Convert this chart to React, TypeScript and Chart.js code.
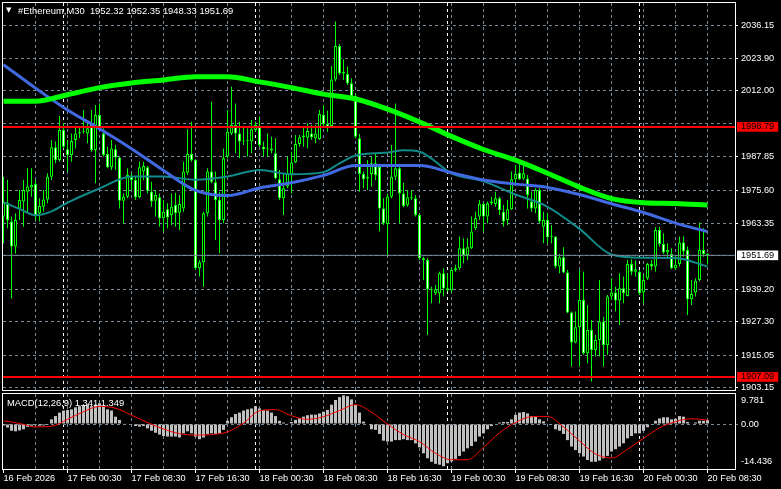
import React, { useEffect, useRef } from 'react';
import { Chart, registerables } from 'chart.js';

Chart.register(...registerables);

// ---------- DATA ----------
const symbol = '#Ethereum';
const period = 'M30';

const opens = [
  1965.9, 1971.0, 1964.05, 1954.9, 1968.9, 1971.4, 1975.05, 1976.6, 1977.85, 1967.1,
  1969.55, 1972.2, 1980.55, 1991.3, 1986.65, 1997.65, 1990.6, 1988.5, 1994.0, 1996.4,
  1996.8, 1996.4, 2000.1, 1990.3, 2003.15, 1996.4, 1988.85, 1983.95, 1990.6, 1987.6,
  1971.75, 1973.2, 1980.55, 1979.3, 1972.95, 1982.4, 1983.95, 1975.05, 1971.75, 1972.95,
  1965.3, 1968.6, 1966.5, 1970.15, 1967.35, 1968.9, 1982.0, 1988.85, 1986.65, 1946.95,
  1949.15, 1967.1, 1982.4, 1978.5, 1972.0, 1964.65, 1987.9, 1996.4, 1999.5, 1996.4,
  1993.4, 1993.75, 1993.4, 1997.65, 1998.9, 1991.55, 1990.6, 1990.9, 1989.1, 1979.6,
  1972.6, 1976.9, 1981.5, 1985.7, 1992.5, 1994.95, 1994.85, 1996.4, 1994.6, 1994.35,
  2003.15, 1999.85, 1999.1, 2016.2, 2028.45, 2018.4, 2018.2, 2014.8, 2010.1, 1994.6,
  1981.5, 1979.9, 1981.5, 1985.45, 1984.2, 1968.9, 1963.2, 1973.2, 1980.55, 1983.6,
  1974.4, 1970.15, 1972.95, 1972.6, 1966.5, 1950.6, 1950.0, 1939.25, 1937.8, 1937.8,
  1945.1, 1939.6, 1938.75, 1946.35, 1946.95, 1954.3, 1951.8, 1954.3, 1961.6, 1965.9,
  1970.5, 1965.9, 1970.8, 1970.5, 1972.6, 1967.7, 1964.65, 1968.6, 1979.55, 1982.0,
  1979.9, 1979.9, 1971.4, 1968.9, 1975.65, 1962.2, 1964.65, 1958.3, 1958.55, 1947.55,
  1951.0, 1945.35, 1930.7, 1919.7, 1925.3, 1935.35, 1915.8, 1924.35, 1917.0, 1920.65,
  1927.4, 1918.85, 1936.55, 1938.05, 1935.1, 1939.6, 1936.8, 1948.55, 1945.7, 1945.7,
  1938.05, 1943.3, 1948.55, 1947.55, 1961.0, 1955.85, 1952.7, 1952.2, 1946.95, 1948.55,
  1956.35, 1953.65, 1935.6, 1938.05, 1942.65, 1953.65, 1952.32,
];
const highs = [
  1980.5, 1979.3, 1965.9, 1967.1, 1975.65, 1979.3, 1983.6, 1983.6, 1979.3, 1972.6,
  1975.65, 1981.8, 1994.0, 1993.4, 2002.8, 2000.1, 1994.0, 1996.4, 1998.9, 1998.9,
  2005.0, 2000.7, 2005.0, 2006.8, 2007.4, 1998.3, 1991.5, 1994.0, 1992.2, 1987.9,
  1974.4, 1983.6, 1981.8, 1980.55, 1986.05, 1986.05, 1984.45, 1978.7, 1975.65, 1974.4,
  1972.0, 1970.8, 1974.4, 1974.65, 1973.8, 1986.05, 1997.9, 2000.7, 1986.9, 1950.0,
  1967.7, 1983.6, 2008.05, 1982.4, 1975.05, 1990.9, 2005.0, 2013.5, 2007.4, 2000.7,
  1998.9, 1998.25, 2001.3, 2000.7, 2002.55, 1993.4, 1996.4, 1995.2, 1994.6, 1983.0,
  1981.8, 1987.9, 1989.7, 1995.8, 1995.8, 1998.9, 2000.1, 1999.5, 1999.5, 2005.0,
  2006.8, 2004.7, 2021.1, 2037.4, 2029.2, 2023.55, 2020.9, 2016.6, 2010.85, 1996.2,
  1982.4, 1986.65, 1987.9, 1989.1, 1984.8, 1972.6, 1974.4, 1992.15, 2007.4, 1984.2,
  1978.35, 1975.65, 1975.65, 1973.8, 1966.8, 1951.2, 1950.6, 1940.2, 1940.8, 1945.7,
  1946.95, 1945.1, 1946.95, 1948.2, 1958.55, 1957.95, 1957.95, 1965.9, 1967.7, 1972.0,
  1971.0, 1971.4, 1973.2, 1975.05, 1973.2, 1970.15, 1972.0, 1982.4, 1984.8, 1985.45,
  1984.8, 1981.15, 1975.05, 1976.25, 1976.25, 1967.7, 1967.1, 1962.85, 1958.6, 1952.2,
  1954.65, 1946.35, 1931.05, 1931.05, 1946.35, 1945.7, 1933.5, 1928.0, 1922.5, 1942.65,
  1929.2, 1937.15, 1943.3, 1940.2, 1945.1, 1943.9, 1950.0, 1950.25, 1949.75, 1946.35,
  1944.5, 1949.0, 1950.0, 1962.0, 1962.2, 1959.8, 1956.1, 1954.3, 1951.8, 1958.55,
  1958.55, 1954.9, 1942.65, 1943.3, 1963.7, 1961.6, 1952.35,
];
const lows = [
  1956.1, 1961.6, 1935.9, 1952.4, 1964.65, 1962.2, 1967.1, 1973.2, 1964.65, 1964.05,
  1967.7, 1970.8, 1979.3, 1985.45, 1986.05, 1990.9, 1982.4, 1986.05, 1990.9, 1994.6,
  1996.4, 1992.8, 1989.7, 1978.1, 1997.65, 1987.9, 1983.6, 1983.0, 1983.0, 1968.9,
  1963.45, 1972.6, 1975.65, 1972.0, 1972.6, 1979.3, 1974.4, 1969.55, 1965.9, 1962.2,
  1960.4, 1961.6, 1962.8, 1962.2, 1961.0, 1967.7, 1981.15, 1986.05, 1946.3, 1943.9,
  1940.2, 1965.9, 1978.1, 1957.3, 1952.45, 1963.45, 1987.25, 1995.8, 1989.1, 1987.25,
  1992.15, 1987.9, 1989.1, 1997.05, 1991.55, 1987.9, 1987.9, 1989.1, 1979.6, 1972.0,
  1966.5, 1976.3, 1974.4, 1985.45, 1991.55, 1991.55, 1990.9, 1994.0, 1992.75, 1994.0,
  1998.9, 1997.05, 1998.6, 2015.4, 2017.8, 2016.0, 2014.15, 2009.3, 1994.6, 1975.05,
  1976.25, 1975.65, 1976.9, 1979.3, 1960.4, 1962.85, 1951.8, 1972.6, 1979.3, 1963.45,
  1969.3, 1969.55, 1972.0, 1965.9, 1950.0, 1942.65, 1922.5, 1934.1, 1937.15, 1934.1,
  1936.55, 1938.4, 1938.05, 1945.7, 1946.35, 1948.8, 1950.0, 1953.9, 1961.0, 1964.65,
  1960.4, 1963.45, 1970.15, 1969.55, 1966.5, 1962.2, 1962.85, 1968.3, 1978.1, 1979.3,
  1979.3, 1968.9, 1967.7, 1967.1, 1963.45, 1956.1, 1956.1, 1956.1, 1946.95, 1945.1,
  1945.1, 1930.45, 1910.9, 1919.45, 1910.9, 1915.2, 1912.1, 1905.4, 1914.55, 1914.55,
  1910.9, 1915.2, 1935.35, 1931.05, 1926.15, 1934.1, 1936.55, 1944.5, 1943.9, 1937.15,
  1934.1, 1942.65, 1946.35, 1945.7, 1954.9, 1952.2, 1950.6, 1946.6, 1946.35, 1947.55,
  1951.2, 1929.85, 1933.5, 1936.55, 1942.05, 1951.2, 1948.33,
];
const closes = [
  1971.0, 1964.65, 1954.9, 1964.65, 1972.0, 1975.65, 1976.9, 1977.5, 1966.1, 1969.8,
  1972.2, 1980.55, 1991.3, 1986.65, 1997.65, 1991.5, 1988.5, 1993.6, 1996.4, 1996.8,
  1997.05, 1998.3, 1990.3, 2003.15, 1998.3, 1988.5, 1983.95, 1990.9, 1987.6, 1971.75,
  1973.2, 1981.15, 1979.3, 1972.95, 1983.95, 1984.45, 1975.4, 1971.4, 1973.8, 1965.3,
  1967.7, 1965.6, 1969.55, 1967.1, 1970.5, 1982.4, 1988.85, 1986.65, 1946.95, 1949.15,
  1967.1, 1982.4, 1978.7, 1972.0, 1964.65, 1987.25, 1997.05, 1999.5, 1996.4, 1993.4,
  1993.75, 1994.0, 1997.9, 1999.5, 1992.15, 1990.6, 1990.9, 1990.1, 1979.95, 1972.6,
  1976.3, 1981.8, 1985.7, 1992.5, 1994.95, 1995.6, 1997.3, 1994.95, 1996.4, 2003.5,
  1999.85, 1998.25, 2016.2, 2028.45, 2018.4, 2019.05, 2014.8, 2010.1, 1995.2, 1981.5,
  1979.55, 1980.55, 1985.45, 1981.15, 1968.9, 1963.45, 1973.2, 1980.55, 1983.6, 1974.4,
  1969.8, 1972.95, 1972.6, 1966.5, 1950.6, 1950.0, 1939.25, 1938.75, 1939.25, 1945.1,
  1939.6, 1939.0, 1946.35, 1946.95, 1954.3, 1951.8, 1954.65, 1960.4, 1965.3, 1970.5,
  1965.9, 1970.8, 1971.4, 1972.6, 1968.3, 1964.05, 1968.6, 1979.55, 1981.5, 1979.55,
  1981.75, 1973.8, 1968.9, 1975.65, 1964.05, 1964.65, 1958.3, 1958.55, 1947.55, 1951.0,
  1945.35, 1930.7, 1919.7, 1925.3, 1935.35, 1915.8, 1924.35, 1917.0, 1920.65, 1927.4,
  1918.85, 1936.55, 1938.05, 1935.1, 1939.6, 1937.8, 1948.55, 1945.7, 1946.6, 1937.8,
  1942.65, 1948.55, 1947.55, 1961.0, 1955.85, 1952.7, 1953.65, 1946.95, 1948.2, 1956.35,
  1953.05, 1935.6, 1937.5, 1942.4, 1953.65, 1952.2, 1951.69,
];

// moving averages (bar index, value)
const maLimeBars = [0, 8, 16, 24, 32, 40, 48, 56, 64, 72, 80, 88, 96, 104, 112, 120, 128, 136, 144, 152, 160, 168, 176];
const maLimeVals = [2008.2, 2008.2, 2010.6, 2013.2, 2014.9, 2016.0, 2017.2, 2017.2, 2015.3, 2013.2, 2010.8, 2009.0, 2005.3, 2000.6, 1995.3, 1990.5, 1986.6, 1981.8, 1976.7, 1972.5, 1971.0, 1970.7, 1970.1];
const maBlueBars = [0, 8, 16, 24, 32, 40, 48, 56, 64, 72, 80, 88, 96, 104, 112, 120, 128, 136, 144, 152, 160, 168, 176];
const maBlueVals = [2021.6, 2013.0, 2005.0, 1998.1, 1990.8, 1982.8, 1975.5, 1973.6, 1976.4, 1978.3, 1981.0, 1984.6, 1984.6, 1984.6, 1982.0, 1979.3, 1977.8, 1976.6, 1974.0, 1970.6, 1967.4, 1963.5, 1960.4];
const maTealBars = [0, 4, 8, 12, 16, 24, 32, 40, 48, 56, 64, 72, 80, 84, 88, 96, 100, 104, 112, 120, 128, 136, 144, 152, 160, 168, 176];
const maTealVals = [1971.2, 1968.7, 1966.4, 1967.8, 1971.0, 1976.2, 1980.6, 1980.6, 1979.4, 1980.6, 1983.0, 1981.4, 1982.2, 1985.4, 1988.3, 1989.4, 1990.2, 1989.7, 1981.8, 1978.8, 1974.0, 1969.5, 1961.4, 1952.0, 1950.8, 1950.7, 1947.6];

// MACD(12,26,9)
const macdHist = [
  -0.5, -1.2, -2.3, -2.5, -2.2, -1.8, -1.0, -0.6, -0.4, -0.6,
  -0.5, -0.3, 1.6, 2.7, 3.9, 4.6, 4.8, 5.0, 5.7, 6.1,
  6.5, 6.6, 6.1, 6.6, 7.1, 5.9, 5.0, 4.6, 2.5, 1.4,
  0.2, 0.2, -0.2, -0.7, -0.9, -0.7, -1.5, -2.3, -3.0, -3.6,
  -4.1, -4.3, -4.3, -4.3, -4.6, -3.2, -2.5, -3.2, -4.3, -5.2,
  -4.6, -3.4, -3.2, -3.4, -3.2, -2.0, 1.1, 2.3, 3.4, 3.9,
  4.6, 5.0, 5.3, 6.1, 5.3, 4.8, 4.6, 3.9, 2.7, 1.1,
  0.5, 0.2, 0.7, 1.4, 2.0, 2.5, 3.0, 3.2, 3.2, 3.6,
  4.2, 4.8, 6.6, 8.2, 9.2, 9.781, 9.5, 8.4, 6.5, 3.9,
  0.8, 0.0, -1.8, -2.0, -3.4, -5.7, -6.0, -6.0, -5.5, -5.5,
  -5.2, -5.5, -5.5, -6.6, -8.0, -10.0, -11.7, -12.9, -13.6, -13.9,
  -14.436, -13.4, -12.8, -11.9, -10.9, -9.4, -8.3, -7.5, -6.0, -4.3,
  -3.2, -1.8, -0.7, 0.2, 0.5, 0.7, 0.7, 1.6, 3.1, 3.9,
  4.1, 3.6, 2.7, 2.7, 1.6, 0.9, 0.2, -0.2, -1.8, -2.3,
  -3.4, -5.5, -7.7, -8.9, -10.0, -11.1, -12.3, -12.9, -12.9, -12.5,
  -11.7, -10.9, -9.4, -8.6, -7.7, -6.6, -4.9, -4.1, -3.2, -3.2,
  -2.3, -1.1, -0.2, 1.1, 1.9, 2.3, 2.3, 1.6, 1.8, 2.7,
  2.5, 0.7, 0.2, 0.5, 1.1, 1.1, 1.341,
];
const signalBars = [0, 4, 8, 12, 16, 20, 24, 28, 32, 36, 40, 44, 48, 52, 56, 60, 64, 68, 72, 76, 80, 84, 88, 92, 96, 100, 104, 108, 112, 116, 120, 124, 128, 132, 136, 140, 144, 148, 152, 156, 160, 164, 168, 172, 176];
const signalVals = [1.1, 0.2, -1.0, -0.8, 1.6, 4.2, 6.0, 5.4, 3.0, 0.5, -1.7, -3.3, -3.8, -3.6, -2.7, 0.3, 4.5, 4.9, 2.8, 1.6, 2.5, 4.6, 6.6, 4.0, 0.0, -3.6, -6.0, -10.0, -12.2, -12.2, -8.0, -3.0, 0.5, 2.5, 2.6, -1.0, -5.8, -10.2, -11.6, -8.6, -4.9, -1.3, 0.8, 1.8, 1.349];

// price axis
const priceGridTicks = [1903.15, 1915.05, 1927.30, 1939.20, 1951.45, 1963.35, 1975.60, 1987.85, 1999.90, 2012.00, 2023.90, 2036.15];
const priceGridLabels = ['1903.15', '1915.05', '1927.30', '1939.20', '', '1963.35', '1975.60', '1987.85', '', '2012.00', '2023.90', '2036.15'];
const levelLines = [1998.79, 1907.09];
const bidPrice = 1951.69;

// time axis
const gridBars = [0, 8, 16, 24, 32, 40, 48, 56, 64, 72, 80, 88, 96, 104, 112, 120, 128, 136, 144, 152, 160, 168, 176];
const timeLabelBars = [0, 16, 32, 48, 64, 80, 96, 112, 128, 144, 160, 176];
const timeLabels = ['16 Feb 2026', '17 Feb 00:30', '17 Feb 08:30', '17 Feb 16:30', '18 Feb 00:30', '18 Feb 08:30', '18 Feb 16:30', '19 Feb 00:30', '19 Feb 08:30', '19 Feb 16:30', '20 Feb 00:30', '20 Feb 08:30'];
const daySeparatorBars = [15, 63, 111, 159];

// MACD axis labels
const macdAxisLabels = ['9.781', '0.00', '-14.436'];
const macdAxisTickPos = [7.95, 0, -12.63];

// ---------- STYLE ----------
const X_MIN = -0.125;
const X_MAX = 182.875;
const P_MIN = 1901.94;
const P_MAX = 2044.22;
const M_MIN = -15.7;
const M_MAX = 10.24;
const GRID = '#778899';
const FAMILY = '"Liberation Sans", Arial, sans-serif';
const AX_FONT = { family: FAMILY, size: 9.2, lineHeight: 1.05 };

const zeroPad = (s: any) => {
  s.paddingTop = 0;
  s.paddingBottom = 0;
  s.paddingLeft = 0;
  s.paddingRight = 0;
};

const framePlugin = {
  id: 'frame',
  afterDraw(chart: any) {
    const { ctx, chartArea: a } = chart;
    ctx.save();
    ctx.strokeStyle = '#ffffff';
    ctx.lineWidth = 1;
    ctx.setLineDash([]);
    ctx.strokeRect(a.left - 0.5, a.top - 0.5, a.right - a.left + 1, a.bottom - a.top);
    ctx.restore();
  },
};

const sepScale = (ticksArr: number[]) => ({
  type: 'linear',
  position: 'bottom',
  min: X_MIN,
  max: X_MAX,
  offset: false,
  afterBuildTicks: (s: any) => { s.ticks = ticksArr.map((v) => ({ value: v })); },
  afterFit: (s: any) => { s.height = 0; zeroPad(s); },
  ticks: { display: false, autoSkip: false },
  grid: { color: '#ffffff', drawTicks: false, offset: false },
  border: { display: false, dash: [3, 3] },
});

export default function App() {
  const mainRef = useRef<HTMLCanvasElement>(null);
  const macdRef = useRef<HTMLCanvasElement>(null);

  useEffect(() => {
    const idx = closes.map((_, i) => i);
    const nGrid = priceGridTicks.length;
    const tagValues = [...levelLines, bidPrice];
    const tagColors = ['#ff0000', '#ff0000', '#ffffff'];

    const main = new Chart(mainRef.current as HTMLCanvasElement, {
      type: 'bar',
      data: {
        datasets: [
          {
            type: 'line', order: 1, data: [{ x: X_MIN, y: levelLines[0] }, { x: X_MAX, y: levelLines[0] }],
            borderColor: '#ff0000', borderWidth: 2, pointRadius: 0,
          },
          {
            type: 'line', order: 1, data: [{ x: X_MIN, y: levelLines[1] }, { x: X_MAX, y: levelLines[1] }],
            borderColor: '#ff0000', borderWidth: 2, pointRadius: 0,
          },
          {
            type: 'line', order: 2, data: [{ x: X_MIN, y: bidPrice }, { x: X_MAX, y: bidPrice }],
            borderColor: GRID, borderWidth: 1, pointRadius: 0,
          },
          {
            type: 'line', order: 3, data: maLimeBars.map((b, k) => ({ x: b, y: maLimeVals[k] })),
            borderColor: '#00ff00', borderWidth: 5, pointRadius: 0, cubicInterpolationMode: 'monotone',
          },
          {
            type: 'line', order: 4, data: maBlueBars.map((b, k) => ({ x: b, y: maBlueVals[k] })),
            borderColor: '#4169e1', borderWidth: 3, pointRadius: 0, cubicInterpolationMode: 'monotone',
          },
          {
            type: 'line', order: 5, data: maTealBars.map((b, k) => ({ x: b, y: maTealVals[k] })),
            borderColor: '#138a8a', borderWidth: 2, pointRadius: 0, cubicInterpolationMode: 'monotone',
          },
          {
            type: 'bar', order: 8, data: idx.map((i) => ({ x: i, y: [opens[i], closes[i]] })) as any,
            barThickness: 3, grouped: false, borderWidth: 1, borderColor: '#00ff00', borderSkipped: false,
            backgroundColor: idx.map((i) => (closes[i] >= opens[i] ? '#000000' : '#ffffff')),
            minBarLength: 1, inflateAmount: 0,
          },
          {
            type: 'bar', order: 9, data: idx.map((i) => ({ x: i, y: [lows[i], highs[i]] })) as any,
            barThickness: 1, grouped: false, borderWidth: 0, backgroundColor: '#00ff00', inflateAmount: 0,
          },
        ] as any,
      },
      options: {
        responsive: false,
        animation: false,
        events: [],
        layout: { padding: { left: 3, top: 3, right: 0, bottom: 0 }, autoPadding: false } as any,
        plugins: { legend: { display: false }, tooltip: { enabled: false } },
        scales: {
          x: {
            type: 'linear', position: 'bottom', min: X_MIN, max: X_MAX, offset: false,
            afterBuildTicks: (s: any) => { s.ticks = gridBars.map((v) => ({ value: v })); },
            afterFit: (s: any) => { s.height = 0; zeroPad(s); },
            ticks: { display: false, autoSkip: false },
            grid: { color: (c: any) => (c.tick && c.tick.value === 0 ? 'rgba(0,0,0,0)' : GRID), drawTicks: false, offset: false },
            border: { display: false, dash: [3, 3] },
          },
          sep: sepScale(daySeparatorBars),
          y: {
            type: 'linear', position: 'right', min: P_MIN, max: P_MAX,
            afterBuildTicks: (s: any) => { s.ticks = [...priceGridTicks, ...tagValues].map((v) => ({ value: v })); },
            afterFit: (s: any) => { s.width = 46; zeroPad(s); },
            ticks: {
              autoSkip: false, padding: 3, font: AX_FONT,
              color: (c: any) => (c.index >= nGrid ? '#000000' : '#ffffff'),
              callback: (v: any, i: number) => (i < nGrid ? priceGridLabels[i] : Number(v).toFixed(2)),
              showLabelBackdrop: (c: any) => c.index >= nGrid,
              backdropColor: (c: any) => (c.index >= nGrid ? tagColors[c.index - nGrid] : 'rgba(0,0,0,0)'),
              backdropPadding: { left: 4, right: 4, top: 0, bottom: 0 },
            },
            grid: {
              color: (c: any) => (c.index < nGrid ? GRID : 'rgba(0,0,0,0)'),
              tickLength: 3,
              tickColor: (c: any) => (c.index < nGrid && priceGridLabels[c.index] ? '#ffffff' : 'rgba(0,0,0,0)'),
              tickBorderDash: [],
            },
            border: { display: false, dash: [3, 3] },
          },
        } as any,
      },
      plugins: [framePlugin],
    });

    const macd = new Chart(macdRef.current as HTMLCanvasElement, {
      type: 'bar',
      data: {
        datasets: [
          {
            type: 'line', order: 1, data: signalBars.map((b, k) => ({ x: b, y: signalVals[k] })),
            borderColor: '#ff0000', borderWidth: 1, pointRadius: 0, cubicInterpolationMode: 'monotone',
          },
          {
            type: 'bar', order: 2, data: idx.map((i) => ({ x: i, y: macdHist[i] })) as any,
            barThickness: 3, grouped: false, borderWidth: 0, backgroundColor: '#c0c0c0', inflateAmount: 0,
          },
        ] as any,
      },
      options: {
        responsive: false,
        animation: false,
        events: [],
        layout: { padding: { left: 3, top: 3, right: 0, bottom: 0 }, autoPadding: false } as any,
        plugins: { legend: { display: false }, tooltip: { enabled: false } },
        scales: {
          x: {
            type: 'linear', position: 'bottom', min: X_MIN, max: X_MAX, offset: false,
            afterBuildTicks: (s: any) => { s.ticks = gridBars.map((v) => ({ value: v })); },
            afterFit: (s: any) => { s.height = 19; zeroPad(s); },
            ticks: {
              autoSkip: false, maxRotation: 0, minRotation: 0, align: 'start', padding: 1,
              color: '#ffffff', font: AX_FONT,
              callback: (v: any) => {
                const k = timeLabelBars.indexOf(Number(v));
                return k >= 0 ? timeLabels[k] : '';
              },
            },
            grid: {
              color: (c: any) => (c.tick && c.tick.value === 0 ? 'rgba(0,0,0,0)' : GRID),
              drawTicks: true, tickLength: 3, offset: false, tickBorderDash: [],
              tickColor: (c: any) => (c.tick && timeLabelBars.indexOf(c.tick.value) >= 0 ? '#ffffff' : 'rgba(0,0,0,0)'),
            },
            border: { display: false, dash: [3, 3] },
          },
          sep: sepScale(daySeparatorBars),
          y: {
            type: 'linear', position: 'right', min: M_MIN, max: M_MAX,
            afterBuildTicks: (s: any) => { s.ticks = macdAxisTickPos.map((v) => ({ value: v })); },
            afterFit: (s: any) => { s.width = 46; zeroPad(s); },
            ticks: {
              autoSkip: false, padding: 3, font: AX_FONT, color: '#ffffff',
              callback: (_v: any, i: number) => macdAxisLabels[i],
            },
            grid: {
              color: (c: any) => (c.tick && c.tick.value === 0 ? GRID : 'rgba(0,0,0,0)'),
              tickLength: 3,
              tickColor: (c: any) => (c.tick && c.tick.value === 0 ? GRID : 'rgba(0,0,0,0)'),
            },
            border: { display: false, dash: [3, 3] },
          },
        } as any,
      },
      plugins: [framePlugin],
    });

    return () => {
      main.destroy();
      macd.destroy();
    };
  }, []);

  const last = closes.length - 1;
  const title = `${symbol},${period}  ${opens[last].toFixed(2)} ${highs[last].toFixed(2)} ${lows[last].toFixed(2)} ${closes[last].toFixed(2)}`;
  const macdTitle = `MACD(12,26,9) ${macdHist[last].toFixed(3)} ${signalVals[signalVals.length - 1].toFixed(3)}`;

  return (
    <div style={{ position: 'fixed', left: 0, top: 0, width: 781, height: 489, background: '#000', overflow: 'hidden' }}>
      <canvas ref={mainRef} width={781} height={391} style={{ position: 'absolute', left: 0, top: 0 }} />
      <canvas ref={macdRef} width={781} height={98} style={{ position: 'absolute', left: 0, top: 391 }} />
      <div style={{ position: 'absolute', left: 6, top: 5, color: '#fff', font: '7px "DejaVu Sans"', lineHeight: '11px' }}>▼</div>
      <div style={{ position: 'absolute', left: 18, top: 5, color: '#fff', font: `9.4px ${FAMILY}`, lineHeight: '11px', whiteSpace: 'pre' }}>{title}</div>
      <div style={{ position: 'absolute', left: 7, top: 397, color: '#fff', font: `9.4px ${FAMILY}`, lineHeight: '11px', whiteSpace: 'pre' }}>{macdTitle}</div>
    </div>
  );
}
